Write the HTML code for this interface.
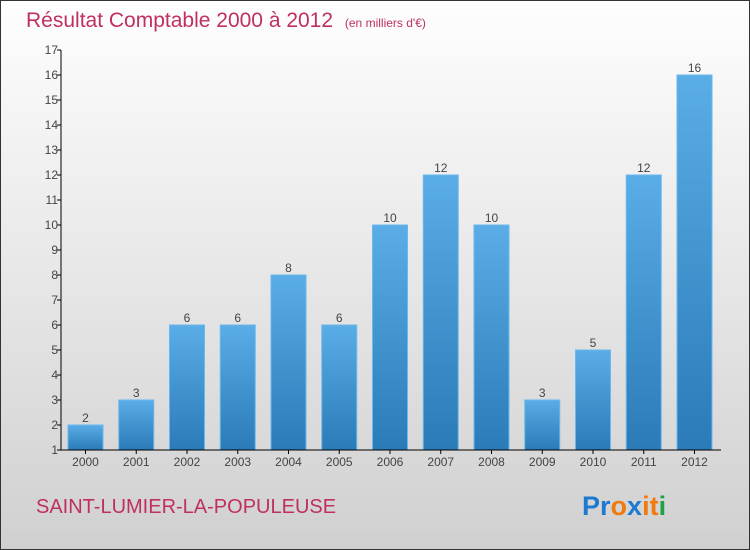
<!DOCTYPE html>
<html><head><meta charset="utf-8"><style>
html,body{margin:0;padding:0}
body{width:750px;height:550px;overflow:hidden;font-family:"Liberation Sans",sans-serif}
#frame{position:absolute;left:0;top:0;width:748px;height:548px;border:1px solid #333;background:linear-gradient(#fefefe,#d0d0d0)}
</style></head><body>
<div id="frame"></div>
<svg id="chart" width="750" height="550" style="position:absolute;left:0;top:0">
<defs><linearGradient id="bg" x1="0" y1="0" x2="0" y2="1"><stop offset="0" stop-color="#5aade6"/><stop offset="1" stop-color="#2a7bb8"/></linearGradient></defs>
<text x="26" y="27" font-size="21" fill="#c0305e">Résultat Comptable 2000 à 2012 <tspan font-size="12" dx="6">(en milliers d'€)</tspan></text>
<g id="plot"></g>
<text x="36" y="513" font-size="20" fill="#c0305e">SAINT-LUMIER-LA-POPULEUSE</text>
<text x="582" y="515" font-size="27" font-weight="bold"><tspan fill="#1e7ad0">Pr</tspan><tspan fill="#f07a10">o</tspan><tspan fill="#1e7ad0">x</tspan><tspan fill="#f07a10">i</tspan><tspan fill="#f07a10">t</tspan><tspan fill="#20a040">i</tspan></text>
</svg>
<script>
const years=["2000","2001","2002","2003","2004","2005","2006","2007","2008","2009","2010","2011","2012"];
const values=[2,3,6,6,8,6,10,12,10,3,5,12,16];
const yTicks=[1,2,3,4,5,6,7,8,9,10,11,12,13,14,15,16,17];
const NS="http://www.w3.org/2000/svg";
const g=document.getElementById('plot');
const x0=61,x1=721,yMin=1,yMax=17,yTop=50,yBot=450;
const step=(x1-x0)/years.length;
function y(v){return yBot-(v-yMin)/(yMax-yMin)*(yBot-yTop);}
function xc(i){return x0+7+17.5+i*50.75;}
function mk(t,a){const e=document.createElementNS(NS,t);for(const k in a)e.setAttribute(k,a[k]);g.appendChild(e);return e;}
values.forEach((v,i)=>{
 const r=mk('rect',{x:xc(i)-17.5,y:y(v),width:35,height:yBot-y(v),fill:'url(#bg)',stroke:'#6ab8ee','stroke-width':1});
 
 
 const t=mk('text',{x:xc(i),y:y(v)-3,'text-anchor':'middle','font-size':12,fill:'#444'});
 t.textContent=v;
 
 
 const xl=mk('text',{x:xc(i),y:466,'text-anchor':'middle','font-size':12,fill:'#444'});
 xl.textContent=years[i];
 
 
 mk('line',{x1:xc(i),x2:xc(i),y1:yBot,y2:yBot+4,stroke:'#000'});
});
yTicks.forEach(v=>{
 mk('line',{x1:x0-4,x2:x0,y1:y(v),y2:y(v),stroke:'#000'});
 const t=mk('text',{x:x0-3,y:y(v)+4,'text-anchor':'end','font-size':12,fill:'#444'});
 t.textContent=v;
 
 
});
const ya=mk('line',{x1:x0,x2:x0,y1:yTop,y2:yBot,stroke:'#000'});


const xa=mk('line',{x1:x0,x2:x1,y1:yBot,y2:yBot,stroke:'#000'});


</script>
</body></html>
